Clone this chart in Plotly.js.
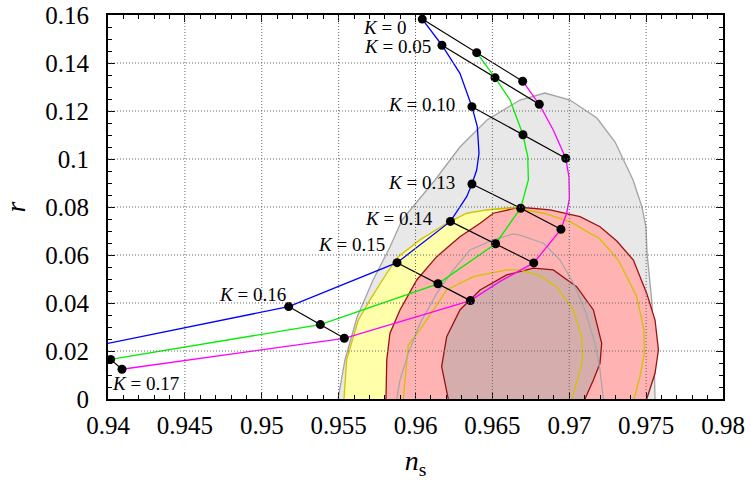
<!DOCTYPE html>
<html>
<head>
<meta charset="utf-8">
<script src="https://cdn.plot.ly/plotly-3.0.1.min.js"></script>
<style>html,body{margin:0;padding:0;background:#fff;}#chart{width:751px;height:480px;}</style>
</head>
<body>
<div id="chart"></div>
<script>
// ---- tick labels ----
const xTickVals = [0.94, 0.945, 0.95, 0.955, 0.96, 0.965, 0.97, 0.975, 0.98];
const xTickText = ['0.94', '0.945', '0.95', '0.955', '0.96', '0.965', '0.97', '0.975', '0.98'];
const yTickVals = [0, 0.02, 0.04, 0.06, 0.08, 0.1, 0.12, 0.14, 0.16];
const yTickText = ['0', '0.02', '0.04', '0.06', '0.08', '0.1', '0.12', '0.14', '0.16'];

// ---- K values and predicted points (blue / green / magenta) ----
const kValues = ['0', '0.05', '0.10', '0.13', '0.14', '0.15', '0.16', '0.17'];
const nsBlue = [0.96044, 0.96172, 0.96367, 0.96367, 0.96227, 0.95880, 0.95175, 0.93840];
const rBlue  = [0.1583, 0.1474, 0.1218, 0.0896, 0.0740, 0.0568, 0.0385, 0.0211];
const nsGreen = [0.96398, 0.96517, 0.96699, 0.96684, 0.96521, 0.96146, 0.95381, 0.94017];
const rGreen  = [0.1443, 0.1339, 0.1101, 0.0795, 0.0647, 0.0480, 0.0310, 0.0165];
const nsMagenta = [0.96697, 0.96805, 0.96977, 0.96946, 0.96769, 0.96357, 0.95537, 0.94091];
const rMagenta  = [0.1324, 0.1228, 0.1003, 0.0707, 0.0567, 0.0410, 0.0253, 0.0124];

// ---- traced curves ----
const blueCurveNs = [0.96044, 0.96172, 0.96289, 0.96367, 0.96402, 0.96413, 0.96398, 0.96367, 0.96333, 0.96227, 0.95880, 0.95175, 0.93840];
const blueCurveR  = [0.1583, 0.1474, 0.1357, 0.1218, 0.1135, 0.1024, 0.0954, 0.0896, 0.0843, 0.0740, 0.0568, 0.0385, 0.0211];
const greenCurveNs = [0.96398, 0.96517, 0.96615, 0.96699, 0.96730, 0.96734, 0.96684, 0.96521, 0.96146, 0.95381, 0.94017];
const greenCurveR  = [0.1443, 0.1339, 0.1246, 0.1101, 0.1010, 0.0913, 0.0795, 0.0647, 0.0480, 0.0310, 0.0165];
const magentaCurveNs = [0.96697, 0.96805, 0.96896, 0.96977, 0.96998, 0.97001, 0.96983, 0.96946, 0.96769, 0.96550, 0.96357, 0.95537, 0.94091];
const magentaCurveR  = [0.1324, 0.1228, 0.1121, 0.1003, 0.0926, 0.0836, 0.0774, 0.0707, 0.0567, 0.0490, 0.0410, 0.0253, 0.0124];

// ---- confidence contours ----
const grayOuterNs = [0.95496, 0.95541, 0.95620, 0.95724, 0.95834, 0.95912, 0.96003, 0.96127, 0.96289, 0.96465, 0.96680, 0.96842, 0.97005, 0.97180, 0.97298, 0.97415, 0.97473, 0.97499, 0.97506, 0.97538, 0.97551, 0.97558];
const grayOuterR  = [0, 0.01625, 0.03417, 0.04958, 0.06333, 0.07458, 0.08167, 0.09125, 0.105, 0.11625, 0.12458, 0.1275, 0.12458, 0.11708, 0.10708, 0.09125, 0.08, 0.07167, 0.06083, 0.04, 0.01917, 0];
const yellowOuterNs = [0.95535, 0.95552, 0.95628, 0.95704, 0.95813, 0.95888, 0.96029, 0.96203, 0.96333, 0.96463, 0.96636, 0.96832, 0.97005, 0.97135, 0.97195, 0.97319, 0.97439, 0.97486, 0.97488, 0.97460, 0.97421];
const yellowOuterR  = [0, 0.0163, 0.0329, 0.0413, 0.0524, 0.0593, 0.0663, 0.0732, 0.0774, 0.0788, 0.0797, 0.0774, 0.0739, 0.0690, 0.0670, 0.0579, 0.0426, 0.0288, 0.0190, 0.0093, 0];
const redOuterNs = [0.95808, 0.95813, 0.95834, 0.95899, 0.96008, 0.96138, 0.96289, 0.96420, 0.96506, 0.96658, 0.96680, 0.96875, 0.97070, 0.97200, 0.97309, 0.97417, 0.97504, 0.97558, 0.97580, 0.97558, 0.97504];
const redOuterR  = [0, 0.0163, 0.0274, 0.0371, 0.0496, 0.0593, 0.0676, 0.0732, 0.0774, 0.0795, 0.0799, 0.0788, 0.0760, 0.0718, 0.0658, 0.0579, 0.0440, 0.0329, 0.0204, 0.0107, 0];
const redInnerNs = [0.96213, 0.96170, 0.96203, 0.96289, 0.96420, 0.96593, 0.96766, 0.96896, 0.97048, 0.97157, 0.97211, 0.97200, 0.97157, 0.97102];
const redInnerR  = [0, 0.0135, 0.0260, 0.0371, 0.0454, 0.0517, 0.0545, 0.0538, 0.0468, 0.0371, 0.0232, 0.0149, 0.0079, 0];
const yellowInnerNs = [0.95921, 0.95943, 0.95953, 0.96029, 0.96116, 0.96203, 0.96376, 0.96593, 0.96680, 0.96810, 0.96918, 0.97027, 0.97081, 0.97087, 0.97059, 0.97016];
const yellowInnerR  = [0, 0.0135, 0.0225, 0.0288, 0.0371, 0.0454, 0.0510, 0.0538, 0.0538, 0.0513, 0.0468, 0.0371, 0.0260, 0.0163, 0.0093, 0];
const grayInnerNs = [0.95878, 0.95899, 0.95953, 0.96029, 0.96138, 0.96246, 0.96354, 0.96506, 0.96636, 0.96680, 0.96832, 0.96940, 0.97027, 0.97102, 0.97167, 0.97200, 0.97222];
const grayInnerR  = [0, 0.0079, 0.0190, 0.0315, 0.0440, 0.0538, 0.0621, 0.0663, 0.0688, 0.0683, 0.0649, 0.0579, 0.0482, 0.0371, 0.0232, 0.0121, 0];

const SERIF = 'Liberation Serif, Times New Roman, serif';
const traces = [];

function filled(xs, ys, fillcolor, linecolor) {
  traces.push({x: xs, y: ys, type: 'scatter', mode: 'lines', fill: 'toself', fillcolor: fillcolor,
    line: {color: linecolor, width: 1.3}, hoverinfo: 'skip', showlegend: false});
}
function outline(xs, ys, color) {
  traces.push({x: xs, y: ys, type: 'scatter', mode: 'lines', line: {color: color, width: 1.3},
    hoverinfo: 'skip', showlegend: false});
}

filled(grayOuterNs, grayOuterR, '#e8e8e8', '#a3a3a3');
filled(yellowOuterNs, yellowOuterR, '#ffffaa', '#d2c200');
filled(redOuterNs, redOuterR, '#ffb3b3', '#9c1010');
filled(redInnerNs, redInnerR, '#d6adad', '#9c1010');
outline(yellowOuterNs.slice(9), yellowOuterR.slice(9), '#d2c200');
outline(yellowInnerNs, yellowInnerR, '#d2c200');
outline(grayInnerNs, grayInnerR, '#a8a8a8');

outline(blueCurveNs, blueCurveR, '#0000ff');
outline(greenCurveNs, greenCurveR, '#00ee00');
outline(magentaCurveNs, magentaCurveR, '#ff00ff');

// black connecting lines for each K
for (let i = 0; i < kValues.length; i++) {
  traces.push({x: [nsBlue[i], nsGreen[i], nsMagenta[i]], y: [rBlue[i], rGreen[i], rMagenta[i]],
    type: 'scatter', mode: 'lines+markers', line: {color: '#000', width: 1.2},
    marker: {color: '#000', size: 9}, hoverinfo: 'skip', showlegend: false});
}

// label offsets (pixels) relative to the anchor point
const labelShift = [[-14, -8], [-9, -1], [-15, 2], [-15, 1], [-15, 3], [-10, 18], [-1, 12], [-1, -24]];
const annotations = kValues.map((k, i) => {
  const last = i === kValues.length - 1;
  return {
    x: last ? nsGreen[i] : nsBlue[i], y: last ? rGreen[i] : rBlue[i],
    xref: 'x', yref: 'y', text: '<i>K</i> = ' + k, showarrow: false,
    xanchor: last ? 'left' : 'right', yanchor: 'middle',
    xshift: labelShift[i][0], yshift: labelShift[i][1],
    font: {family: SERIF, size: 19, color: '#000'}
  };
});

// dotted grid drawn above the filled regions (as in the reference)
const gridStyle = {color: '#666', width: 1, dash: '1px,2px'};
const shapes = [];
xTickVals.slice(1, -1).forEach(v => shapes.push({type: 'line', layer: 'above', xref: 'x', yref: 'paper',
  x0: v, x1: v, y0: 0, y1: 1, line: gridStyle}));
yTickVals.slice(1, -1).forEach(v => shapes.push({type: 'line', layer: 'above', xref: 'paper', yref: 'y',
  x0: 0, x1: 1, y0: v, y1: v, line: gridStyle}));

const axisCommon = {
  showline: true, linecolor: '#000', linewidth: 2, mirror: 'allticks',
  ticks: 'inside', ticklen: 7, tickwidth: 1, tickcolor: '#000',
  showgrid: false, zeroline: false, tickmode: 'array',
  tickfont: {family: SERIF, size: 25, color: '#000'}
};

const layout = {
  width: 751, height: 480,
  margin: {l: 108, r: 28, t: 15, b: 81},
  paper_bgcolor: '#fff', plot_bgcolor: '#fff',
  showlegend: false,
  xaxis: Object.assign({}, axisCommon, {
    range: [0.94, 0.98], tickvals: xTickVals, ticktext: xTickText,
    ticklabelstandoff: 3,
    minor: {tickmode: 'linear', tick0: 0.94, dtick: 0.001, ticks: 'inside', ticklen: 4, tickcolor: '#000', showgrid: false},
    title: {text: '<i>n</i><sub>s</sub>', font: {family: SERIF, size: 28, color: '#000'}, standoff: 16}
  }),
  yaxis: Object.assign({}, axisCommon, {
    range: [0, 0.16], tickvals: yTickVals, ticktext: yTickText,
    ticklabelstandoff: 12,
    minor: {tickmode: 'linear', tick0: 0, dtick: 0.005, ticks: 'inside', ticklen: 4, tickcolor: '#000', showgrid: false},
    title: {text: '<i>r</i>', font: {family: SERIF, size: 28, color: '#000'}, standoff: 18}
  }),
  shapes: shapes,
  annotations: annotations
};

Plotly.newPlot('chart', traces, layout, {staticPlot: true, displayModeBar: false});
</script>
</body>
</html>
